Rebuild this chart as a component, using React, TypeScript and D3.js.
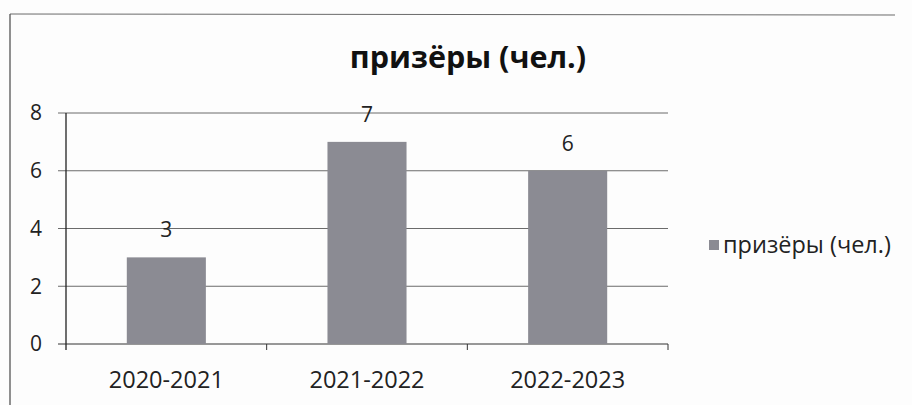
import React from "react";
import * as d3 from "d3";

const categories = ["2020-2021", "2021-2022", "2022-2023"];
const values = [3, 7, 6];
const yTicks = [0, 2, 4, 6, 8];
const seriesName = "призёры (чел.)";
const title = "призёры (чел.)";

const W = 912;
const H = 405;
const FONT = "'Open Sans', 'Noto Sans', sans-serif";

export default function App() {
  const plotL = 66, plotR = 668, plotT = 113, plotB = 344;
  const x = d3.scaleBand<string>().domain(categories).range([plotL, plotR]).paddingInner(0.606).paddingOuter(0.303);
  const xb = d3.scaleBand<string>().domain(categories).range([plotL, plotR]).padding(0);
  const y = d3.scaleLinear().domain([0, 8]).range([plotB, plotT]);

  return (
    <svg width={W} height={H} style={{ position: "absolute", left: 0, top: 0, background: "#fff" }}>
      <rect x={0} y={0} width={W} height={H} fill="#fdfdfd" />
      {/* outer chart border */}
      <line x1={10} y1={14} x2={895} y2={15} stroke="#6a6a6a" strokeWidth={1} />
      <line x1={10} y1={14} x2={10} y2={H} stroke="#555" strokeWidth={1.3} />

      <text x={468} y={68} textAnchor="middle" fontFamily={FONT} fontWeight={700} fontSize={30.5} fill="#111">
        {title}
      </text>

      {/* gridlines */}
      {yTicks.map((t) => (
        <line key={"g" + t} x1={58} x2={plotR} y1={y(t)} y2={y(t)} stroke={t === 0 ? "#333" : "#6b6b6b"} strokeWidth={1} />
      ))}
      {/* y axis */}
      <line x1={plotL} x2={plotL} y1={plotT} y2={plotB + 6} stroke="#222" strokeWidth={1.3} />
      {yTicks.map((t) => (
        <text key={"t" + t} x={42} y={y(t)} dy="0.35em" textAnchor="end" fontFamily={FONT} fontSize={21} fill="#222">
          {t}
        </text>
      ))}
      {/* category ticks */}
      {categories.map((c) => (
        <line key={"ct" + c} x1={(xb(c) as number) + xb.bandwidth()} x2={(xb(c) as number) + xb.bandwidth()} y1={plotB} y2={plotB + 6} stroke="#333" strokeWidth={1} />
      ))}

      {/* bars */}
      {categories.map((c, i) => (
        <rect key={"b" + c} x={x(c)} y={y(values[i])} width={x.bandwidth()} height={y(0) - y(values[i])} fill="#8b8b93" />
      ))}
      {categories.map((c, i) => (
        <text key={"l" + c} x={(x(c) as number) + x.bandwidth() / 2} y={y(values[i]) - 27.5} dy="0.35em" textAnchor="middle" fontFamily={FONT} fontSize={21} fill="#222">
          {values[i]}
        </text>
      ))}
      {categories.map((c) => (
        <text key={"x" + c} x={(xb(c) as number) + xb.bandwidth() / 2} y={388} textAnchor="middle" fontFamily={FONT} fontSize={23.5} fill="#222">
          {c}
        </text>
      ))}

      {/* legend */}
      <rect x={709} y={240} width={10} height={10} fill="#8b8b93" />
      <text x={723} y={245} dy="0.35em" fontFamily={FONT} fontSize={23.5} fill="#222">
        {seriesName}
      </text>
    </svg>
  );
}
